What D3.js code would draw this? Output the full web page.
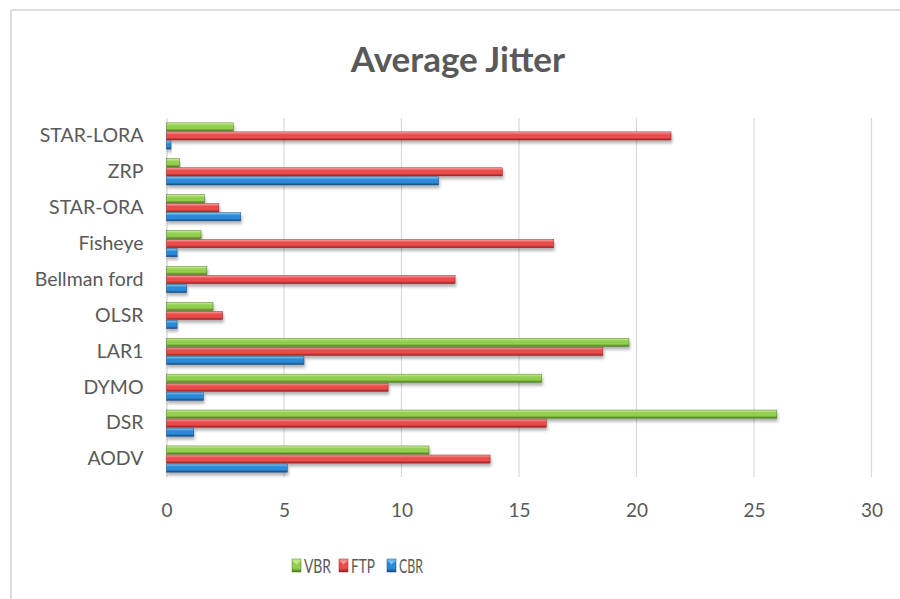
<!DOCTYPE html>
<html>
<head>
<meta charset="utf-8">
<script src="https://cdn.jsdelivr.net/npm/d3@7"></script>
<style>
  html, body { margin: 0; padding: 0; background: #fff; }
  svg { display: block; }
</style>
</head>
<body>
<svg id="chart" width="900" height="599"></svg>
<script>
const categories = ["STAR-LORA", "ZRP", "STAR-ORA", "Fisheye", "Bellman ford", "OLSR", "LAR1", "DYMO", "DSR", "AODV"];
const seriesNames = ["VBR", "FTP", "CBR"];
const vbr = [2.84, 0.55, 1.62, 1.47, 1.72, 1.98, 19.68, 15.97, 25.97, 11.17];
const ftp = [21.47, 14.29, 2.23, 16.48, 12.28, 2.39, 18.57, 9.43, 16.16, 13.77];
const cbr = [0.19, 11.58, 3.16, 0.45, 0.86, 0.45, 5.85, 1.57, 1.16, 5.14];
const xTicks = [0, 5, 10, 15, 20, 25, 30];
const title = "Average Jitter";

const seriesValues = { VBR: vbr, FTP: ftp, CBR: cbr };
const colors = {
  VBR: ["#d2f09a", "#92cf4f", "#4a7a1c"],
  FTP: ["#fba3a3", "#ea4b4b", "#962020"],
  CBR: ["#8ccaf5", "#2b8ad9", "#174a82"]
};

const svg = d3.select("#chart");
const font = "Lato, 'Open Sans', sans-serif";
const textColor = "#595959";

// defs
const defs = svg.append("defs");
seriesNames.forEach(s => {
  const g = defs.append("linearGradient").attr("id", "grad-" + s)
    .attr("x1", 0).attr("y1", 0).attr("x2", 0).attr("y2", 1);
  g.append("stop").attr("offset", "0%").attr("stop-color", colors[s][0]);
  g.append("stop").attr("offset", "35%").attr("stop-color", colors[s][1]);
  g.append("stop").attr("offset", "70%").attr("stop-color", colors[s][1]);
  g.append("stop").attr("offset", "100%").attr("stop-color", colors[s][2]);
});
const f = defs.append("filter").attr("id", "shadow")
  .attr("x", "-5%").attr("y", "-50%").attr("width", "115%").attr("height", "250%");
f.append("feDropShadow").attr("dx", 1).attr("dy", 3).attr("stdDeviation", 1.8)
  .attr("flood-color", "#000").attr("flood-opacity", 0.3);

// chart border (top and left visible)
svg.append("line").attr("x1", 11).attr("x2", 900).attr("y1", 10).attr("y2", 10)
  .attr("stroke", "#dcdcdc").attr("stroke-width", 2);
svg.append("line").attr("x1", 11).attr("x2", 11).attr("y1", 10).attr("y2", 599)
  .attr("stroke", "#dcdcdc").attr("stroke-width", 2);

// title
svg.append("text").attr("x", 458).attr("y", 72).attr("text-anchor", "middle")
  .attr("font-family", font).attr("font-weight", 700).attr("font-size", 35)
  .attr("fill", textColor).text(title);

// scales
const x = d3.scaleLinear().domain([0, 30]).range([166.5, 871.5]);
const y = d3.scaleBand().domain(categories).range([118, 477])
  .paddingInner(0.27).paddingOuter(0.135);
const ySub = d3.scaleBand().domain(seriesNames).range([0, y.bandwidth()]).paddingInner(0.1);

// gridlines
svg.append("g").selectAll("line").data(xTicks.slice(1)).join("line")
  .attr("x1", d => x(d)).attr("x2", d => x(d))
  .attr("y1", 118).attr("y2", 477)
  .attr("stroke", "#d9d9d9").attr("stroke-width", 1.2);

// x axis labels
const xAxis = d3.axisBottom(x).tickValues(xTicks).tickSize(0).tickPadding(0);
const gx = svg.append("g").attr("transform", "translate(0,503)").call(xAxis);
gx.select(".domain").remove();
gx.selectAll("text").attr("font-family", font).attr("font-size", 19)
  .attr("fill", textColor).attr("dy", "0.71em");

// y axis
const yAxis = d3.axisLeft(y).tickSize(0).tickPadding(23);
const gy = svg.append("g").attr("transform", `translate(${x(0)},0)`).call(yAxis);
gy.select(".domain").attr("stroke", "#d0d0d0").attr("stroke-width", 1.2);
gy.selectAll("text").attr("font-family", font).attr("font-size", 19.5)
  .attr("fill", textColor);

// bars
const groups = svg.append("g").selectAll("g").data(categories).join("g")
  .attr("transform", d => `translate(0,${y(d)})`);
groups.selectAll("rect").data((c, i) => seriesNames.map(s => ({ s, v: seriesValues[s][i] })))
  .join("rect")
  .attr("x", x(0))
  .attr("y", d => ySub(d.s))
  .attr("width", d => Math.max(0, x(d.v) - x(0)))
  .attr("height", ySub.bandwidth())
  .attr("fill", d => `url(#grad-${d.s})`)
  .attr("stroke", d => colors[d.s][2])
  .attr("stroke-width", 0.5)
  .attr("filter", "url(#shadow)");

// legend
const legendItems = [
  { s: "VBR", x: 292, w: 27 },
  { s: "FTP", x: 339, w: 24 },
  { s: "CBR", x: 387, w: 24 }
];
const lg = svg.append("g").selectAll("g").data(legendItems).join("g")
  .attr("transform", d => `translate(${d.x},559)`);
lg.append("rect").attr("width", 9).attr("height", 13)
  .attr("fill", d => `url(#grad-${d.s})`).attr("stroke", d => colors[d.s][2]).attr("stroke-width", 0.5);
lg.append("path").attr("d", "M2,2 L7,2 L4.5,6 Z").attr("fill", d => colors[d.s][0]).attr("opacity", 0.8);
lg.append("text").attr("x", 12).attr("y", 13.5).attr("font-family", font).attr("font-size", 20)
  .attr("textLength", d => d.w).attr("lengthAdjust", "spacingAndGlyphs")
  .attr("fill", textColor).text(d => d.s);
</script>
</body>
</html>
